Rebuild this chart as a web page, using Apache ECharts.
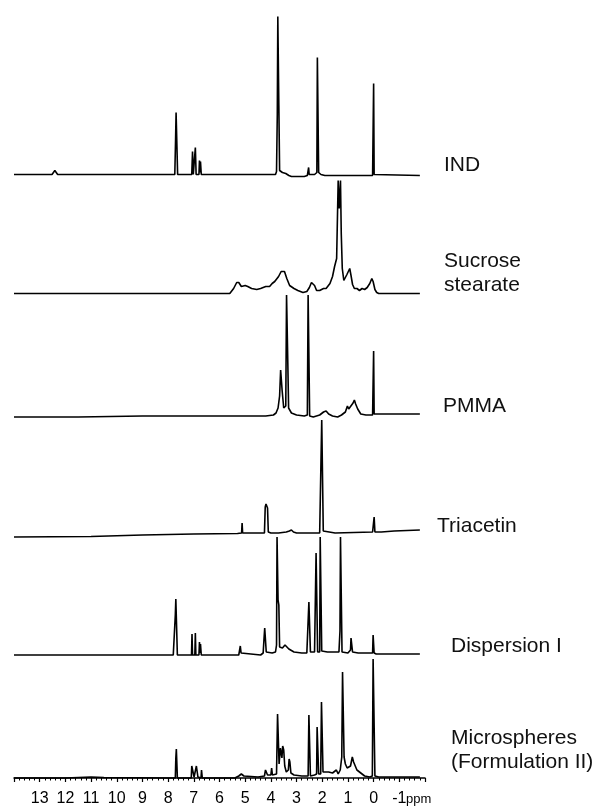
<!DOCTYPE html>
<html>
<head>
<meta charset="utf-8">
<script src="https://cdn.jsdelivr.net/npm/echarts@6/dist/echarts.min.js"></script>
<style>
  html, body { margin: 0; padding: 0; background: #fff; }
  #chart { width: 603px; height: 812px; }
</style>
</head>
<body>
<div id="chart"></div>
<script>
// 1H NMR spectra, chemical shift (ppm) vs intensity
const traceNames = ['IND', 'Sucrose\nstearate', 'PMMA', 'Triacetin', 'Dispersion I', 'Microspheres\n(Formulation II)']
const xTicks = [13, 12, 11, 10, 9, 8, 7, 6, 5, 4, 3, 2, 1, 0, -1]

const indData = [
  [14, 0], [12.52, 0], [12.46, 2], [12.41, 4], [12.36, 2], [12.3, 0],
  [7.74, 0], [7.71, 35], [7.69, 62], [7.66, 60], [7.63, 0],
  [7.08, 0], [7.05, 23], [7.02, 0], [6.97, 0], [6.94, 27], [6.91, 0],
  [6.8, 0], [6.78, 14], [6.76, 2], [6.74, 13], [6.71, 0],
  [3.82, 0], [3.78, 3], [3.75, 60], [3.73, 158], [3.71, 158], [3.69, 69], [3.66, 4], [3.55, 2], [3.42, 1],
  [3.3, -1], [3.2, -2], [2.7, -2], [2.58, -1], [2.55, 0], [2.53, 7], [2.51, 0], [2.3, 0], [2.21, 2],
  [2.19, 117], [2.16, 116], [2.14, 2], [2.05, 0], [1.9, -1],
  [0.04, -1], [0.02, 0], [0.0, 91], [-0.02, 0], [-0.05, -1], [-1.8, -1]
]

const sucroseData = [
  [14, 0], [6.0, 0], [5.6, 0], [5.45, 5], [5.33, 11], [5.25, 11], [5.15, 7], [5.0, 8], [4.9, 7], [4.75, 5],
  [4.55, 4], [4.4, 5], [4.2, 7], [4.05, 7], [3.95, 10], [3.85, 12], [3.7, 17], [3.6, 22], [3.53, 24],
  [3.47, 22], [3.38, 15], [3.27, 8], [3.1, 5], [2.95, 3], [2.75, 1], [2.6, 2], [2.5, 6], [2.42, 11],
  [2.36, 13], [2.3, 8], [2.22, 3], [2.1, 3], [1.95, 5], [1.85, 5], [1.7, 10], [1.6, 17], [1.52, 27],
  [1.44, 35], [1.38, 113], [1.34, 85], [1.29, 113], [1.26, 60], [1.22, 25], [1.16, 13], [1.1, 14],
  [1.04, 19], [0.98, 21], [0.93, 25], [0.88, 18], [0.82, 9], [0.75, 5], [0.65, 5], [0.55, 3], [0.45, 5],
  [0.35, 4], [0.25, 6], [0.15, 10], [0.07, 15], [0.02, 12], [-0.05, 4], [-0.12, 1], [-0.2, 0], [-1.8, 0]
]

const pmmaData = [
  [14, -1], [11.5, -1], [9, 0], [6, 0], [4.2, 0], [3.9, 1], [3.8, 3], [3.72, 8], [3.66, 20], [3.62, 46],
  [3.59, 47], [3.56, 25], [3.5, 8], [3.46, 6], [3.42, 10], [3.39, 121], [3.36, 121], [3.34, 52], [3.31, 8],
  [3.2, 3], [3.0, 1], [2.7, 0], [2.58, 1], [2.55, 121], [2.52, 121], [2.49, 0], [2.45, -2], [2.35, -1],
  [2.1, 1], [1.95, 4], [1.85, 5], [1.75, 2], [1.6, 0], [1.4, -1], [1.25, 1], [1.1, 4], [1.02, 10],
  [0.97, 7], [0.9, 9], [0.8, 13], [0.75, 16], [0.7, 12], [0.62, 7], [0.5, 2], [0.3, 1],
  [0.04, 1], [0.02, 2], [0.0, 65], [-0.02, 2], [-1.8, 2]
]

const triacetinData = [
  [14, 0], [11, 0.5], [9, 2], [7, 3], [5.3, 3.5], [5.14, 4], [5.12, 14], [5.1, 4], [4.9, 4], [4.25, 4],
  [4.22, 30], [4.19, 33], [4.16, 32], [4.13, 29], [4.1, 5], [4.0, 4], [3.7, 4], [3.4, 5], [3.28, 6],
  [3.2, 7], [3.12, 5], [3.0, 4], [2.5, 4], [2.1, 4], [2.05, 6], [2.02, 117], [1.99, 117], [1.96, 6],
  [1.9, 4], [1.5, 4], [0.04, 5], [0.01, 5], [-0.02, 20], [-0.05, 5], [-0.3, 5], [-0.8, 6], [-1.8, 7]
]

const dispersionData = [
  [14, 0], [7.8, 0], [7.74, 0], [7.72, 40], [7.7, 56], [7.67, 55], [7.64, 0],
  [7.09, 0], [7.07, 21], [7.05, 0], [6.96, 0], [6.94, 22], [6.92, 0], [6.8, 0], [6.78, 13], [6.76, 2],
  [6.74, 11], [6.71, 0], [5.25, 0], [5.22, 2], [5.19, 9], [5.16, 2], [5.1, 0], [4.4, 0], [4.3, 2],
  [4.27, 15], [4.24, 27], [4.21, 25], [4.18, 3], [3.95, 2], [3.82, 3], [3.78, 10], [3.76, 118],
  [3.74, 118], [3.72, 55], [3.69, 50], [3.66, 8], [3.55, 7], [3.45, 10], [3.38, 10], [3.3, 6], [3.1, 3],
  [2.8, 2], [2.6, 2], [2.55, 4], [2.52, 53], [2.49, 53], [2.46, 3], [2.3, 3], [2.24, 102], [2.21, 102],
  [2.18, 3], [2.1, 3], [2.08, 118], [2.05, 118], [2.02, 4], [1.8, 3], [1.55, 3], [1.52, 5], [1.48, 3],
  [1.35, 3], [1.31, 24], [1.29, 118], [1.26, 118], [1.23, 3], [1.0, 2], [0.9, 5], [0.88, 17], [0.85, 16],
  [0.82, 3], [0.6, 2], [0.04, 2], [0.02, 20], [0.0, 22], [-0.02, 2], [-0.1, 1], [-1.8, 1]
]

const microData = [
  [14, 0], [12, 0], [11, 1], [10.5, 0.5], [8, 0], [7.72, 0], [7.7, 20], [7.68, 29], [7.66, 28], [7.64, 0],
  [7.1, 0], [7.08, 12], [7.05, 11], [7.02, 12], [6.99, 1], [6.93, 1], [6.9, 12], [6.87, 11], [6.84, 1],
  [6.72, 0], [6.7, 8], [6.67, 0], [5.4, 0], [5.25, 2], [5.15, 4], [5.05, 2], [4.5, 1], [4.25, 2],
  [4.21, 8], [4.17, 8], [4.13, 3], [4.0, 3], [3.97, 10], [3.94, 3], [3.78, 4], [3.74, 64], [3.71, 64],
  [3.68, 14], [3.63, 30], [3.6, 32], [3.57, 20], [3.54, 32], [3.5, 28], [3.46, 12], [3.4, 6], [3.32, 8],
  [3.29, 19], [3.26, 16], [3.22, 5], [3.1, 3], [2.8, 2], [2.55, 2], [2.52, 63], [2.49, 63], [2.46, 2],
  [2.3, 3], [2.22, 4], [2.2, 51], [2.17, 51], [2.14, 4], [2.06, 4], [2.03, 76], [2.0, 76], [1.97, 6],
  [1.75, 6], [1.6, 5], [1.45, 8], [1.38, 4], [1.3, 8], [1.24, 21], [1.21, 106], [1.18, 106], [1.15, 21],
  [1.1, 14], [1.03, 10], [0.98, 9], [0.9, 12], [0.83, 21], [0.78, 16], [0.72, 14], [0.65, 8], [0.5, 5],
  [0.35, 2], [0.15, 1], [0.05, 2], [0.02, 119], [-0.02, 119], [-0.05, 2], [-0.2, 1], [-1.8, 1]
]

const traces = [indData, sucroseData, pmmaData, triacetinData, dispersionData, microData]

// layout: pixel y of each spectrum baseline, label placement
const baselineY = [174.5, 293.5, 416, 537, 655, 778]
const labelPos = [[444, 165], [444, 273], [443, 406], [437, 526], [451, 646], [451, 750]]
const gridH = 160

const chart = echarts.init(document.getElementById('chart'), null, { renderer: 'canvas' })

const grids = baselineY.map((b) => ({ left: 14, width: 411, top: b - gridH, height: gridH }))

const xAxes = traces.map((_, i) => {
  const last = i === traces.length - 1
  return {
    type: 'value',
    gridIndex: i,
    min: -2,
    max: 14,
    interval: 1,
    inverse: true,
    show: last,
    offset: 8,
    axisLine: { lineStyle: { color: '#000', width: 1.5 } },
    axisTick: { show: true, length: 4, lineStyle: { color: '#000', width: 1.2 } },
    minorTick: { show: true, splitNumber: 5, length: 2.5, lineStyle: { color: '#000', width: 1 } },
    splitLine: { show: false },
    axisLabel: {
      color: '#000',
      fontSize: 16,
      fontFamily: 'Liberation Sans, Arial, sans-serif',
      margin: 5,
      formatter: (v) => (xTicks.includes(v) ? String(v) : ''),
    },
  }
})

const yAxes = traces.map((_, i) => ({
  type: 'value',
  gridIndex: i,
  min: 0,
  max: gridH,
  show: false,
}))

const series = traces.map((d, i) => ({
  name: traceNames[i],
  type: 'line',
  xAxisIndex: i,
  yAxisIndex: i,
  data: d,
  showSymbol: false,
  clip: false,
  lineStyle: { color: '#000', width: 1.6 },
  animation: false,
}))

const labels = traceNames.map((name, i) => ({
  type: 'text',
  left: labelPos[i][0],
  top: labelPos[i][1] - (name.includes('\n') ? 24 : 12),
  style: {
    text: name,
    fill: '#111',
    font: '21px "Liberation Sans", Arial, sans-serif',
    lineHeight: 24,
  },
}))

labels.push({
  type: 'text',
  left: 406,
  top: 793,
  style: { text: 'ppm', fill: '#000', font: '13px "Liberation Sans", Arial, sans-serif' },
})

chart.setOption({
  animation: false,
  grid: grids,
  xAxis: xAxes,
  yAxis: yAxes,
  series: series,
  graphic: labels,
})
</script>
</body>
</html>
